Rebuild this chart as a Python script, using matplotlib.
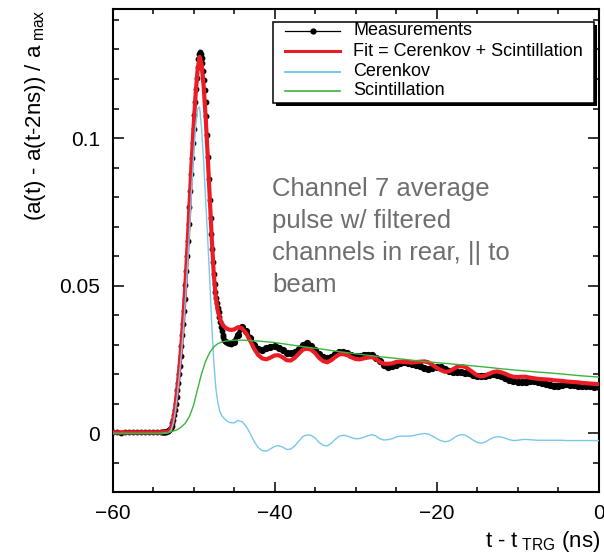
import numpy as np
import matplotlib
matplotlib.use("Agg")
import matplotlib.pyplot as plt
from matplotlib.patches import Rectangle
from matplotlib.lines import Line2D
from matplotlib.ticker import MultipleLocator, FuncFormatter

plt.rcParams['font.family'] = ['Liberation Sans', 'DejaVu Sans']
plt.rcParams['mathtext.fontset'] = 'custom'
plt.rcParams['mathtext.rm'] = 'Liberation Sans'
plt.rcParams['mathtext.it'] = 'Liberation Sans:italic'

# ---------------- measured average pulse (time in ns) ----------------
t_meas_base = np.linspace(-60.0, -54.5, 12)
t_meas_pulse = np.round(np.linspace(-54.0, -45.1, 90), 2)
t_meas_tail = np.linspace(-45.0, 0.0, 91)

meas_baseline = [0.0004, 0.0005, 0.0003, 0.0005, 0.0004, 0.0006,
                 0.0004, 0.0005, 0.0004, 0.0005, 0.0004, 0.0005]
meas_pulse = [
    0.0004, 0.0005, 0.0004, 0.0005, 0.0005, 0.0005, 0.0006, 0.0007, 0.0008, 0.0009,
    0.0011, 0.0014, 0.0019, 0.0026, 0.0035, 0.0047, 0.0062, 0.0080, 0.0100, 0.0122,
    0.0146, 0.0172, 0.0200, 0.0230, 0.0262, 0.0296, 0.0333, 0.0372, 0.0413, 0.0456,
    0.0502, 0.0550, 0.0600, 0.0653, 0.0708, 0.0765, 0.0822, 0.0878, 0.0932, 0.0983,
    0.1030, 0.1078, 0.1122, 0.1165, 0.1205, 0.1240, 0.1268, 0.1285, 0.1290, 0.1286,
    0.1272, 0.1253, 0.1228, 0.1198, 0.1163, 0.1122, 0.1075, 0.1010, 0.0935, 0.0860,
    0.0790, 0.0730, 0.0675, 0.0625, 0.0580, 0.0540, 0.0505, 0.0478, 0.0458, 0.0441,
    0.0426, 0.0411, 0.0395, 0.0378, 0.0362, 0.0348, 0.0335, 0.0325, 0.0318, 0.0314,
    0.0311, 0.0309, 0.0307, 0.0306, 0.0305, 0.0305, 0.0304, 0.0305, 0.0306, 0.0308,
]
meas_tail = [
    0.0310, 0.0335, 0.0360, 0.0346, 0.0322, 0.0298, 0.0287, 0.0284, 0.0288, 0.0292,
    0.0296, 0.0290, 0.0281, 0.0274, 0.0272, 0.0276, 0.0285, 0.0298, 0.0305, 0.0297,
    0.0284, 0.0268, 0.0258, 0.0255, 0.0260, 0.0268, 0.0276, 0.0275, 0.0271, 0.0266,
    0.0262, 0.0263, 0.0266, 0.0267, 0.0265, 0.0257, 0.0244, 0.0233, 0.0226, 0.0227,
    0.0233, 0.0240, 0.0243, 0.0240, 0.0235, 0.0232, 0.0228, 0.0221, 0.0219, 0.0222,
    0.0226, 0.0224, 0.0218, 0.0212, 0.0209, 0.0208, 0.0207, 0.0205, 0.0204, 0.0199,
    0.0194, 0.0194, 0.0196, 0.0199, 0.0201, 0.0199, 0.0193, 0.0187, 0.0182, 0.0176,
    0.0173, 0.0173, 0.0175, 0.0177, 0.0178, 0.0175, 0.0171, 0.0168, 0.0165, 0.0162,
    0.0162, 0.0164, 0.0166, 0.0165, 0.0163, 0.0162, 0.0162, 0.0161, 0.0160, 0.0158,
    0.0157,
]

# ---------------- fit components on a common time grid ----------------
t_fit = np.round(np.concatenate([
    [-60.0, -56.0, -54.0, -53.5],
    np.linspace(-53.0, -45.25, 32),
    np.linspace(-45.0, 0.0, 91),
]), 2)

fit_total = [
    0.0004, 0.0004, 0.0004, 0.0005,
    0.0008, 0.0020, 0.0045, 0.0090, 0.0150, 0.0220, 0.0300, 0.0395, 0.0505, 0.0630,
    0.0770, 0.0910, 0.1035, 0.1145, 0.1230, 0.1275, 0.1250, 0.1175, 0.1070, 0.0940,
    0.0800, 0.0660, 0.0540, 0.0460, 0.0415, 0.0390, 0.0373, 0.0363, 0.0357, 0.0353,
    0.0351, 0.0351,
    0.0352, 0.0360, 0.0356, 0.0339, 0.0314, 0.0286, 0.0265, 0.0254, 0.0251, 0.0257,
    0.0264, 0.0265, 0.0258, 0.0248, 0.0247, 0.0256, 0.0270, 0.0284, 0.0287, 0.0284,
    0.0273, 0.0256, 0.0245, 0.0241, 0.0248, 0.0259, 0.0268, 0.0269, 0.0265, 0.0258,
    0.0252, 0.0251, 0.0254, 0.0257, 0.0259, 0.0253, 0.0242, 0.0236, 0.0236, 0.0237,
    0.0242, 0.0243, 0.0242, 0.0241, 0.0240, 0.0242, 0.0243, 0.0244, 0.0241, 0.0232,
    0.0223, 0.0215, 0.0209, 0.0210, 0.0217, 0.0225, 0.0228, 0.0226, 0.0217, 0.0207,
    0.0197, 0.0193, 0.0196, 0.0202, 0.0208, 0.0210, 0.0207, 0.0202, 0.0196, 0.0192,
    0.0191, 0.0192, 0.0192, 0.0189, 0.0187, 0.0185, 0.0184, 0.0183, 0.0182, 0.0180,
    0.0179, 0.0178, 0.0176, 0.0175, 0.0174, 0.0173, 0.0171, 0.0170, 0.0169, 0.0168,
    0.0167,
]
cerenkov = [
    0.0, 0.0, 0.0, 0.0001,
    0.0004, 0.0012, 0.0035, 0.0075, 0.0130, 0.0195, 0.0270, 0.0355, 0.0455, 0.0565,
    0.0690, 0.0820, 0.0935, 0.1035, 0.1098, 0.1105, 0.1030, 0.0920, 0.0790, 0.0660,
    0.0520, 0.0370, 0.0245, 0.0155, 0.0105, 0.0075, 0.0060, 0.0052, 0.0045, 0.0040,
    0.0037, 0.0036,
    0.0036, 0.0044, 0.0040, 0.0024, 0.0000, -0.0028, -0.0048, -0.0058, -0.0060, -0.0052,
    -0.0044, -0.0041, -0.0046, -0.0054, -0.0053, -0.0042, -0.0026, -0.0010, -0.0005, -0.0006,
    -0.0015, -0.0030, -0.0040, -0.0042, -0.0033, -0.0020, -0.0009, -0.0006, -0.0009, -0.0014,
    -0.0018, -0.0017, -0.0013, -0.0008, -0.0004, -0.0008, -0.0018, -0.0022, -0.0021, -0.0018,
    -0.0012, -0.0009, -0.0009, -0.0009, -0.0008, -0.0005, -0.0002, 0.0000, -0.0002, -0.0009,
    -0.0017, -0.0024, -0.0028, -0.0026, -0.0018, -0.0009, -0.0004, -0.0005, -0.0013, -0.0022,
    -0.0030, -0.0033, -0.0029, -0.0021, -0.0014, -0.0011, -0.0012, -0.0016, -0.0021, -0.0024,
    -0.0023, -0.0021, -0.0020, -0.0021, -0.0022, -0.0023, -0.0023, -0.0023, -0.0023, -0.0023,
    -0.0023, -0.0023, -0.0024, -0.0024, -0.0024, -0.0024, -0.0024, -0.0024, -0.0024, -0.0024,
    -0.0024,
]

# scintillation component on its own grid
t_scint = [-60, -54, -53, -52.5, -52, -51.5, -51, -50.5, -50, -49.5, -49, -48.5, -48,
           -47.5, -47, -46.5, -46, -45, -44, -42, -40, -38, -36, -34, -32, -30, -28,
           -26, -24, -22, -20, -18, -16, -14, -12, -10, -8, -6, -4, -2, 0]
scintillation = [0.0, 0.0, 0.0004, 0.0008, 0.0013, 0.0022, 0.0035, 0.0058, 0.0095, 0.0150,
                 0.0203, 0.0245, 0.0274, 0.0293, 0.0304, 0.0310, 0.0313, 0.0316, 0.0316,
                 0.0313, 0.0308, 0.0300, 0.0292, 0.0285, 0.0277, 0.0270, 0.0263, 0.0257,
                 0.0251, 0.0245, 0.0240, 0.0235, 0.0230, 0.0225, 0.0219, 0.0214, 0.0209,
                 0.0205, 0.0200, 0.0195, 0.0191]

legend_labels = ["Measurements", "Fit = Cerenkov + Scintillation", "Cerenkov", "Scintillation"]
note = "Channel 7 average\npulse w/ filtered\nchannels in rear, || to\nbeam"

C_RED = '#ec1c24'
C_BLUE = '#78c8ec'
C_GREEN = '#3cb43c'

fig = plt.figure(figsize=(6.04, 5.55), dpi=100)
ax = fig.add_axes([0.1863, 0.1141, 0.8046, 0.8697])

# measurements: thin connecting line with dots; the dense tail merges into a band
t_all = np.concatenate([t_meas_base, t_meas_pulse, t_meas_tail])
y_all = np.array(meas_baseline + meas_pulse + meas_tail)
ax.plot(t_all, y_all, color='black', lw=0.7, marker='o', ms=3.2,
        mec='black', mfc='black', zorder=2)
ax.plot(t_meas_tail, meas_tail, color='black', lw=3.2, marker='o', ms=4.2,
        mec='black', mfc='black', zorder=2)
ax.plot(t_fit, fit_total, color=C_RED, lw=3.0, zorder=3, solid_joinstyle='round')
ax.plot(t_fit, cerenkov, color=C_BLUE, lw=1.0, zorder=4)
ax.plot(t_scint, scintillation, color=C_GREEN, lw=1.0, zorder=5)

ax.set_xlim(-60, 0)
ax.set_ylim(-0.0197, 0.1437)

ax.xaxis.set_major_locator(MultipleLocator(20))
ax.xaxis.set_minor_locator(MultipleLocator(5))
ax.yaxis.set_major_locator(MultipleLocator(0.05))
ax.yaxis.set_minor_locator(MultipleLocator(0.01))
ax.xaxis.set_major_formatter(FuncFormatter(lambda v, p: f"{v:g}".replace('-', '\u2212')))
ax.yaxis.set_major_formatter(FuncFormatter(lambda v, p: f"{v:g}".replace('-', '\u2212')))

ax.tick_params(which='both', direction='in', top=True, right=True, width=1.1,
               labelsize=15)
ax.xaxis.set_tick_params(which='major', length=7, pad=9)
ax.xaxis.set_tick_params(which='minor', length=3.3)
ax.yaxis.set_tick_params(which='major', length=8, pad=9)
ax.yaxis.set_tick_params(which='minor', length=4.3)
for s in ax.spines.values():
    s.set_linewidth(1.5)

# axis titles, aligned to the axis ends
fig.text(0.993, 1 - 542 / 555, r"t - t$_{\ \mathrm{TRG}}$ (ns)", ha='right', va='center',
         fontsize=16)
fig.text(0.058, 0.982, r"(a(t) - a(t-2ns)) / a$_{\ \mathrm{max}}$", rotation=90,
         ha='center', va='top', fontsize=16)

# annotation
ax.text(0.328, 0.652, note, transform=ax.transAxes, ha='left', va='top',
        fontsize=18.5, color='#6e6e6e', linespacing=1.42)

# legend box with shadow
x0, x1, y0, y1 = 0.3296, 0.9907, 0.8059, 0.9737
dx, dy = 0.006, 0.006
ax.add_patch(Rectangle((x0 + dx, y0 - dy), x1 - x0, y1 - y0, transform=ax.transAxes,
                       facecolor='black', edgecolor='black', lw=0, zorder=9, clip_on=False))
ax.add_patch(Rectangle((x0, y0), x1 - x0, y1 - y0, transform=ax.transAxes,
                       facecolor='white', edgecolor='black', lw=1.1, zorder=10, clip_on=False))
rows = [0.955, 0.912, 0.870, 0.831]
styles = [dict(color='black', lw=0.9), dict(color=C_RED, lw=2.2),
          dict(color=C_BLUE, lw=1.4), dict(color=C_GREEN, lw=1.2)]
hx0, hx1, tx = 0.355, 0.468, 0.495
for yr, lab, st in zip(rows, legend_labels, styles):
    ax.add_line(Line2D([hx0, hx1], [yr, yr], transform=ax.transAxes, zorder=11, **st))
    ax.text(tx, yr, lab, transform=ax.transAxes, ha='left', va='center',
            fontsize=13, zorder=11)
ax.add_line(Line2D([(hx0 + hx1) / 2], [rows[0]], transform=ax.transAxes, marker='o',
                   ms=3.5, color='black', zorder=12))

fig.savefig("out.png", dpi=100)
